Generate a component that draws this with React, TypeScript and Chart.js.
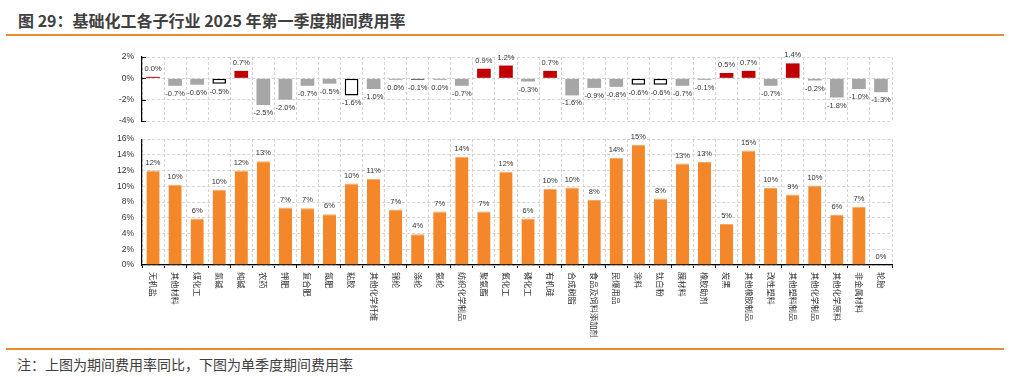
import React, { useEffect, useRef } from 'react';
import { Chart, registerables } from 'chart.js';

Chart.register(...registerables);

const categories = [
  '无机盐', '其他材料', '煤化工', '氯碱', '纯碱', '农药', '钾肥', '复合肥', '氮肥', '粘胶',
  '其他化学纤维', '锦纶', '涤纶', '氨纶', '纺织化学制品', '聚氨酯', '氟化工', '磷化工', '有机硅', '合成树脂',
  '食品及饲料添加剂', '民爆用品', '涂料', '钛白粉', '膜材料', '橡胶助剂', '炭黑', '其他橡胶制品', '改性塑料', '其他塑料制品',
  '其他化学制品', '其他化学原料', '非金属材料', '轮胎',
];

// 上图：期间费用率同比 (百分点)
const yoyChange = [
  0.02, -0.7, -0.6, -0.5, 0.7, -2.5, -2.0, -0.7, -0.5, -1.6,
  -1.0, -0.04, -0.1, -0.04, -0.7, 0.9, 1.2, -0.3, 0.7, -1.6,
  -0.9, -0.8, -0.6, -0.6, -0.7, -0.1, 0.5, 0.7, -0.7, 1.4,
  -0.2, -1.8, -1.0, -1.3,
];

// 下图：单季度期间费用率 (%)
const expenseRate = [
  12.0, 10.2, 5.9, 9.55, 12.0, 13.2, 7.3, 7.2, 6.45, 10.35,
  10.95, 7.05, 3.9, 6.8, 13.75, 6.8, 11.85, 5.9, 9.65, 9.85,
  8.25, 13.6, 15.25, 8.45, 12.9, 13.1, 5.2, 14.55, 9.8, 8.95,
  10.1, 6.35, 7.4, 0,
];

// 上图中以空心框标出的子行业
const outlinedCategories = ['氯碱', '粘胶', '涂料', '钛白粉'];
const darkOutlinedCategories = ['涤纶'];

const yoyTickMin = -4;
const yoyTickMax = 2;
const yoyTickStep = 2;
const rateTickMin = 0;
const rateTickMax = 16;
const rateTickStep = 2;

const TICK_FONT = { family: '"Liberation Sans", Arial, sans-serif', size: 8.5 };
const LABEL_FONT = '7.5px "Liberation Sans", Arial, sans-serif';
const CAT_FONT = '8.2px "Noto Sans CJK SC", sans-serif';
const GRID_COLOR = '#d4d4d4';
const TEXT_COLOR = '#333333';

const fmtYoy = (v: number) => {
  let s = v.toFixed(1);
  if (s === '-0.0') s = '0.0';
  return s + '%';
};
const fmtRate = (v: number) => Math.round(v) + '%';

const makeValueLabels = (fmt: (v: number) => string, offset: number) => ({
  id: 'valueLabels',
  afterDatasetsDraw(chart: any) {
    const ctx = chart.ctx;
    const meta = chart.getDatasetMeta(0);
    const data = chart.data.datasets[0].data as number[];
    ctx.save();
    ctx.font = LABEL_FONT;
    ctx.fillStyle = TEXT_COLOR;
    ctx.textAlign = 'center';
    ctx.textBaseline = 'middle';
    meta.data.forEach((el: any, i: number) => {
      const v = data[i];
      const p = el.getProps(['x', 'y', 'base'], true);
      const ty = v < 0 ? Math.max(p.y, p.base) + offset : Math.min(p.y, p.base) - offset;
      ctx.fillText(fmt(v), p.x, ty);
    });
    ctx.restore();
  },
});

const innerYTicks = {
  id: 'innerYTicks',
  afterDraw(chart: any) {
    const ys = chart.scales.y;
    const left = chart.chartArea.left;
    const ctx = chart.ctx;
    ctx.save();
    ctx.strokeStyle = '#000';
    ctx.lineWidth = 1;
    ys.ticks.forEach((t: any) => {
      const y = Math.round(ys.getPixelForValue(t.value)) + 0.5;
      ctx.beginPath();
      ctx.moveTo(left, y);
      ctx.lineTo(left + 4, y);
      ctx.stroke();
    });
    ctx.restore();
  },
};

const categoryLabels = {
  id: 'categoryLabels',
  afterDraw(chart: any) {
    const xs = chart.scales.x;
    const ctx = chart.ctx;
    const top = chart.chartArea.bottom + 7;
    ctx.save();
    ctx.font = CAT_FONT;
    ctx.fillStyle = TEXT_COLOR;
    ctx.textAlign = 'left';
    ctx.textBaseline = 'middle';
    categories.forEach((c, i) => {
      const x = xs.getPixelForTick(i);
      ctx.save();
      ctx.translate(x, top);
      ctx.rotate(Math.PI / 2);
      ctx.fillText(c, 0, 0);
      ctx.restore();
    });
    ctx.restore();
  },
};

const W = 1011;
const LEFT = 142;
const RIGHT_PAD = 119;

export default function App() {
  const topRef = useRef<HTMLCanvasElement>(null);
  const botRef = useRef<HTMLCanvasElement>(null);

  useEffect(() => {
    const bg = yoyChange.map((v, i) => {
      const c = categories[i];
      if (darkOutlinedCategories.includes(c)) return '#595959';
      if (outlinedCategories.includes(c)) return '#ffffff';
      return v > 0 ? '#C00000' : '#A6A6A6';
    });
    const bc = yoyChange.map((v, i) => {
      const c = categories[i];
      if (darkOutlinedCategories.includes(c) || outlinedCategories.includes(c)) return '#000000';
      return v > 0 ? '#C00000' : '#A6A6A6';
    });
    const bw = categories.map((c) =>
      darkOutlinedCategories.includes(c) || outlinedCategories.includes(c) ? 1.5 : 0
    );

    const top = new Chart(topRef.current!, {
      type: 'bar',
      data: {
        labels: categories,
        datasets: [
          {
            data: yoyChange,
            backgroundColor: bg,
            borderColor: bc,
            borderWidth: bw,
            borderSkipped: false,
            barPercentage: 0.62,
            categoryPercentage: 1,
            minBarLength: 1.5,
          },
        ],
      },
      options: {
        responsive: false,
        animation: false,
        devicePixelRatio: 1,
        layout: { padding: { left: 0, right: RIGHT_PAD, top: 16, bottom: 20 } },
        plugins: { legend: { display: false }, tooltip: { enabled: false } },
        scales: {
          x: {
            grid: { color: GRID_COLOR, offset: true, drawTicks: false },
            border: { display: false, dash: [3, 2] },
            ticks: { display: false },
            afterFit: (s: any) => { s.height = 0; },
          },
          y: {
            min: yoyTickMin,
            max: yoyTickMax,
            grid: { color: GRID_COLOR, drawTicks: false },
            border: { display: true, color: '#000', width: 1.2, dash: [3, 2] },
            ticks: {
              stepSize: yoyTickStep,
              padding: 8,
              color: TEXT_COLOR,
              font: TICK_FONT,
              callback: (v: any) => v + '%',
            },
            afterFit: (s: any) => { s.width = LEFT; },
          },
        },
      },
      plugins: [makeValueLabels(fmtYoy, 8), innerYTicks],
    });

    const bot = new Chart(botRef.current!, {
      type: 'bar',
      data: {
        labels: categories,
        datasets: [
          {
            data: expenseRate,
            backgroundColor: '#F3872A',
            borderColor: '#F8A860',
            borderWidth: { top: 1, left: 0, right: 0, bottom: 0 } as any,
            barPercentage: 0.6,
            categoryPercentage: 1,
          },
        ],
      },
      options: {
        responsive: false,
        animation: false,
        devicePixelRatio: 1,
        layout: { padding: { left: 0, right: RIGHT_PAD, top: 13, bottom: 82 } },
        plugins: { legend: { display: false }, tooltip: { enabled: false } },
        scales: {
          x: {
            grid: {
              color: GRID_COLOR,
              offset: true,
              drawTicks: true,
              tickLength: 3,
              tickColor: '#000',
              tickBorderDash: [],
            },
            border: { display: true, color: '#000', width: 1.2, dash: [3, 2] },
            ticks: { display: false },
            afterFit: (s: any) => { s.height = 3; },
          },
          y: {
            min: rateTickMin,
            max: rateTickMax,
            grid: { color: GRID_COLOR, drawTicks: false },
            border: { display: true, color: '#000', width: 1.2, dash: [3, 2] },
            ticks: {
              stepSize: rateTickStep,
              padding: 8,
              color: TEXT_COLOR,
              font: TICK_FONT,
              callback: (v: any) => v + '%',
            },
            afterFit: (s: any) => { s.width = LEFT; },
          },
        },
      },
      plugins: [makeValueLabels(fmtRate, 8), categoryLabels],
    });

    return () => {
      top.destroy();
      bot.destroy();
    };
  }, []);

  return (
    <div
      style={{
        position: 'absolute',
        left: 0,
        top: 0,
        width: W,
        height: 377,
        background: '#fff',
        overflow: 'hidden',
        fontFamily: '"Noto Sans CJK SC", "Noto Sans", sans-serif',
      }}
    >
      <div
        style={{
          position: 'absolute',
          left: 18,
          top: 10,
          fontSize: 16,
          lineHeight: '20px',
          fontWeight: 700,
          color: '#404040',
          whiteSpace: 'nowrap',
        }}
      >
        图 29：基础化工各子行业 2025 年第一季度期间费用率
      </div>
      <div style={{ position: 'absolute', left: 6, top: 34, width: 998, height: 2, background: '#EE8A2E' }} />
      <canvas
        ref={topRef}
        width={W}
        height={100}
        style={{ position: 'absolute', left: 0, top: 41, width: W, height: 100 }}
      />
      <canvas
        ref={botRef}
        width={W}
        height={224}
        style={{ position: 'absolute', left: 0, top: 126, width: W, height: 224 }}
      />
      <div style={{ position: 'absolute', left: 6, top: 348, width: 998, height: 1.5, background: '#EE8A2E' }} />
      <div
        style={{
          position: 'absolute',
          left: 17,
          top: 355,
          fontSize: 14,
          lineHeight: '18px',
          color: '#404040',
          whiteSpace: 'nowrap',
        }}
      >
        注：上图为期间费用率同比，下图为单季度期间费用率
      </div>
    </div>
  );
}
